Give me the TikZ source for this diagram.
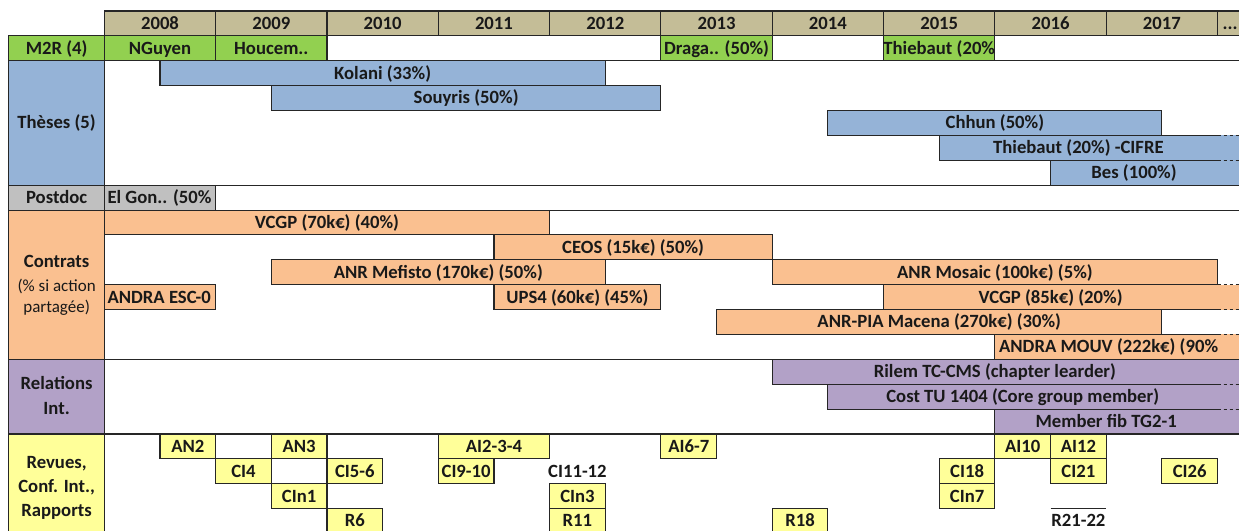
\documentclass[tikz,border=0pt]{standalone}
\usepackage{fontspec}
\setmainfont{Carlito}
\definecolor{hdrc}{HTML}{C4BD97}
\definecolor{m2rc}{HTML}{92D050}
\definecolor{thesec}{HTML}{95B3D7}
\definecolor{postc}{HTML}{C0C0C0}
\definecolor{contc}{HTML}{FAC090}
\definecolor{relc}{HTML}{B2A1C7}
\definecolor{revc}{HTML}{FFFF99}
\pgfdeclarelayer{fills}
\pgfdeclarelayer{paper}
\pgfsetlayers{paper,fills,main}
\tikzset{
  rule/.style={line width=1.1pt, draw=black!85},
  openrule/.style={rule, dash pattern=on 3.5pt off 2.5pt},
  txt/.style={font=\bfseries\fontsize{18.7}{22}\selectfont, text=black!90, inner sep=0pt, text height=11.8pt, text depth=0pt},
  smalltxt/.style={txt, font=\fontsize{17}{20}\selectfont},
}
\def\tE{10.193}
\def\tL{-0.8573}
\def\tLc{-0.42865}
\newcommand\tlrect[4]{%
  \begin{pgfonlayer}{fills}\fill[#1] (#2,#4) rectangle (#3,#4+1);\end{pgfonlayer}
  \draw[rule] (#2,#4) rectangle (#3,#4+1);}
\newcommand\tlbox[6]{%
  \tlrect{#2}{#3}{#4}{#5}
  \node[txt] (#1) at ({(#3+#4)/2},#5+0.5) {#6};}
\newcommand\tlopen[5]{%
  \begin{pgfonlayer}{fills}\fill[#2] (#3,#4) rectangle (\tE,#4+1);\end{pgfonlayer}
  \draw[rule] (10,#4) -- (#3,#4) -- (#3,#4+1) -- (10,#4+1);
  \draw[openrule] (10,#4) -- (\tE,#4) (10,#4+1) -- (\tE,#4+1);
  \node[txt] (#1) at ({(#3+10)/2},#4+0.5) {#5};}
\newcommand\tlgroup[3]{%
  \begin{pgfonlayer}{fills}\fill[#1] (\tL,#2) rectangle (0,#3);\end{pgfonlayer}
  \draw[rule] (\tL,#2) rectangle (0,#3);}
\begin{document}
\begin{tikzpicture}[x=111.4pt,y=-24.9pt]
\useasboundingbox (\tL-0.08,-0.44177) rectangle (\tE,20.8835);
\begin{pgfonlayer}{paper}\fill[white] (\tL-0.08,-0.44177) rectangle (\tE,20.8835);\end{pgfonlayer}
% header
\foreach \yr [count=\i from 0] in {2008,...,2017} {\tlbox{y\yr}{hdrc}{\i}{\i+1}{0}{\yr}}
\begin{pgfonlayer}{fills}\fill[hdrc] (10,0) rectangle (\tE,1);\end{pgfonlayer}
\draw[rule] (\tE,0) -- (10,0) -- (10,1) -- (\tE,1);
\node[txt, anchor=west, xshift=5pt] (ydots) at (10,0.5) {...};
% M2R
\tlgroup{m2rc}{1}{2}
\node[txt] (m2r) at (\tLc,1.5) {M2R (4)};
\tlbox{nguyen}{m2rc}{0}{1}{1}{NGuyen}
\tlbox{houcem}{m2rc}{1}{2}{1}{Houcem..}
\tlrect{m2rc}{5}{6}{1}
\node[txt, anchor=west, xshift=3pt] (draga) at (5,1.5) {Draga.. (50\%)};
\tlbox{thiebautm}{m2rc}{7}{8}{1}{Thiebaut (20\%}
% Theses
\tlgroup{thesec}{2}{7}
\node[txt] (theses) at (\tLc,4.5) {Thèses (5)};
\tlbox{kolani}{thesec}{0.5}{4.5}{2}{Kolani (33\%)}
\tlbox{souyris}{thesec}{1.5}{5}{3}{Souyris (50\%)}
\tlbox{chhun}{thesec}{6.5}{9.5}{4}{Chhun (50\%)}
\tlopen{thiebaut}{thesec}{7.5}{5}{Thiebaut (20\%) -CIFRE}
\tlopen{bes}{thesec}{8.5}{6}{Bes (100\%)}
% Postdoc
\tlgroup{postc}{7}{8}
\node[txt] (postdoc) at (\tLc,7.5) {Postdoc};
\tlrect{postc}{0}{1}{7}
\node[txt, anchor=west, xshift=3pt] (elgon) at (0,7.5) {El Gon.. (50\%};
% Contrats
\tlgroup{contc}{8}{14}
\node[txt] (contrats) at (\tLc,10.08) {Contrats};
\node[smalltxt] (contrats2) at (\tLc,11.04) {(\% si action};
\node[smalltxt] (contrats3) at (\tLc,11.9) {partagée)};
\tlbox{vcgpa}{contc}{0}{4}{8}{VCGP (70k€) (40\%)}
\tlbox{ceos}{contc}{3.5}{6}{9}{CEOS (15k€) (50\%)}
\tlbox{mefisto}{contc}{1.5}{4.5}{10}{ANR Mefisto (170k€) (50\%)}
\tlbox{mosaic}{contc}{6}{10}{10}{ANR Mosaic (100k€) (5\%)}
\tlrect{contc}{0}{1}{11}
\node[txt, anchor=west, xshift=3pt] (andraesc) at (0,11.5) {ANDRA ESC-0};
\tlbox{ups}{contc}{3.5}{5}{11}{UPS4 (60k€) (45\%)}
\tlopen{vcgpb}{contc}{7}{11}{VCGP (85k€) (20\%)}
\tlbox{macena}{contc}{5.5}{9.5}{12}{ANR-PIA Macena (270k€) (30\%)}
\begin{pgfonlayer}{fills}\fill[contc] (8,13) rectangle (\tE,14);\end{pgfonlayer}
\draw[rule] (10,13) -- (8,13) -- (8,14);
\draw[openrule] (10,13) -- (\tE,13);
\node[txt, anchor=west, xshift=4pt] (mouv) at (8,13.5) {ANDRA MOUV (222k€) (90\%};
% Relations
\tlgroup{relc}{14}{17}
\node[txt] (rel1) at (\tLc,14.98) {Relations};
\node[txt] (rel2) at (\tLc,15.98) {Int.};
\tlopen{rilem}{relc}{6}{14}{Rilem TC-CMS (chapter learder)}
\tlopen{cost}{relc}{6.5}{15}{Cost TU 1404 (Core group member)}
\tlopen{fib}{relc}{8}{16}{Member fib TG2-1}
% Revues
\tlgroup{revc}{17}{21.3}
\node[txt] (rev1) at (\tLc,18.15) {Revues,};
\node[txt] (rev2) at (\tLc,19.12) {Conf. Int.,};
\node[txt] (rev3) at (\tLc,20.08) {Rapports};
\tlbox{an2}{revc}{0.5}{1}{17}{AN2}
\tlbox{an3}{revc}{1.5}{2}{17}{AN3}
\tlbox{ai234}{revc}{3}{4}{17}{AI2-3-4}
\tlbox{ai67}{revc}{5}{5.5}{17}{AI6-7}
\tlbox{ai10}{revc}{8}{8.5}{17}{AI10}
\tlbox{ai12}{revc}{8.5}{9}{17}{AI12}
\tlbox{ci4}{revc}{1}{1.5}{18}{CI4}
\tlbox{ci56}{revc}{2}{2.5}{18}{CI5-6}
\tlbox{ci910}{revc}{3}{3.5}{18}{CI9-10}
\node[txt] (ci1112) at (4.25,18.5) {CI11-12};
\tlbox{ci18}{revc}{7.5}{8}{18}{CI18}
\tlbox{ci21}{revc}{8.5}{9}{18}{CI21}
\tlbox{ci26}{revc}{9.5}{10}{18}{CI26}
\tlbox{cin1}{revc}{1.5}{2}{19}{CIn1}
\tlbox{cin3}{revc}{4}{4.5}{19}{CIn3}
\tlbox{cin7}{revc}{7.5}{8}{19}{CIn7}
\tlbox{r6}{revc}{2}{2.5}{20}{R6}
\tlbox{r11}{revc}{4}{4.5}{20}{R11}
\tlbox{r18}{revc}{6}{6.5}{20}{R18}
\draw[rule] (8.5,20) -- (9,20);
\node[txt] (r2122) at (8.75,20.5) {R21-22};
% group separators
\foreach \k in {2,7,8,14,17} {\draw[rule] (0,\k) -- (\tE,\k);}
\end{tikzpicture}
\end{document}
